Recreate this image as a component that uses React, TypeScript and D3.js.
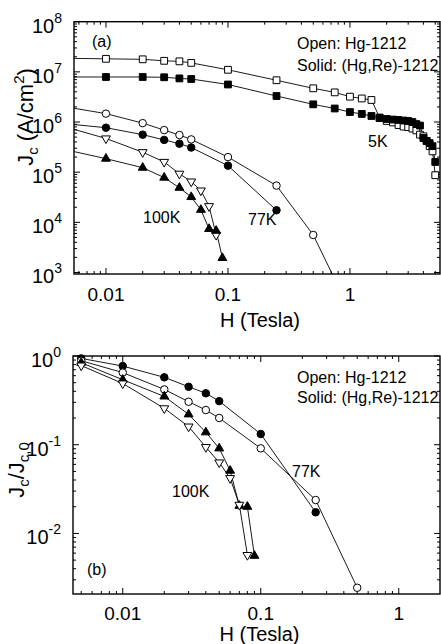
import React from 'react';
import * as d3 from 'd3';

// ---------- Data (panel a: Jc in A/cm^2 vs H in Tesla) ----------
const H_5K = [0.005, 0.01, 0.02, 0.03, 0.04, 0.05, 0.1, 0.25, 0.5, 0.75, 1.0, 1.25, 1.5, 1.75, 2.0, 2.25, 2.5, 2.75, 3.0, 3.25, 3.5, 3.75, 4.0, 4.25, 4.5, 4.75, 5.0];
const Jc_5K_open = [1.86e7, 1.82e7, 1.78e7, 1.66e7, 1.62e7, 1.51e7, 1.10e7, 6.8e6, 4.7e6, 3.9e6, 3.2e6, 2.95e6, 2.75e6, 1.23e6, 1.05e6, 9.8e5, 8.7e5, 8.1e5, 7.9e5, 7.4e5, 6.8e5, 5.6e5, 5.2e5, 4.2e5, 3.3e5, 2.6e5, 8.7e4];
const Jc_5K_solid = [7.9e6, 7.9e6, 7.9e6, 7.8e6, 7.4e6, 7.2e6, 5.6e6, 3.3e6, 2.25e6, 1.86e6, 1.58e6, 1.45e6, 1.32e6, 1.2e6, 1.15e6, 1.12e6, 1.1e6, 1.07e6, 1.05e6, 1.0e6, 9.1e5, 8.5e5, 4.8e5, 4.2e5, 3.8e5, 3.3e5, 1.6e5];

const H_77K_open = [0.005, 0.01, 0.02, 0.03, 0.04, 0.05, 0.1, 0.25, 0.5, 1.0];
const Jc_77K_open = [1.95e6, 1.47e6, 9.5e5, 6.9e5, 5.5e5, 4.5e5, 2.0e5, 5.4e4, 5.6e3, 1.75e2];
const H_77K_solid = [0.005, 0.01, 0.02, 0.03, 0.04, 0.05, 0.1, 0.25];
const Jc_77K_solid = [9.1e5, 7.7e5, 5.6e5, 4.4e5, 3.7e5, 3.1e5, 1.35e5, 1.74e4];

const H_100K_open = [0.005, 0.01, 0.02, 0.03, 0.04, 0.05, 0.06, 0.07, 0.08];
const Jc_100K_open = [7.6e5, 4.7e5, 2.5e5, 1.6e5, 9.3e4, 6.5e4, 4.3e4, 2.1e4, 5.6e3];
const H_100K_solid = [0.005, 0.01, 0.02, 0.03, 0.04, 0.05, 0.06, 0.07, 0.08, 0.09];
const Jc_100K_solid = [2.7e5, 1.86e5, 1.23e5, 7.8e4, 4.9e4, 3.2e4, 1.78e4, 7.4e3, 6.8e3, 1.95e3];

// ---------- Data (panel b: Jc/Jc,0 vs H) ----------
const R_77K_solid = [0.94, 0.77, 0.575, 0.45, 0.38, 0.31, 0.132, 0.0173];
const R_77K_open = [0.885, 0.65, 0.42, 0.305, 0.246, 0.20, 0.091, 0.0238, 0.00244];
const H_77K_open_b = [0.005, 0.01, 0.02, 0.03, 0.04, 0.05, 0.1, 0.25, 0.5];
const R_100K_solid = [0.84, 0.54, 0.35, 0.22, 0.138, 0.091, 0.051, 0.0205, 0.020, 0.0056];
const R_100K_open = [0.78, 0.49, 0.257, 0.16, 0.094, 0.063, 0.042, 0.021, 0.0057];

const X_TICK_LABELS = ['0.01', '0.1', '1'];
const Y_EXP_A = [3, 4, 5, 6, 7, 8];
const Y_EXP_B = [-2, -1, 0];

const FONT = "'Liberation Sans', Arial, Helvetica, sans-serif";

type Shape = 'square' | 'circle' | 'up' | 'down';
type Series = { h: number[]; v: number[]; shape: Shape; filled: boolean };

function markerPath(shape: Shape): string {
  if (shape === 'square') return d3.symbol(d3.symbolSquare, 46)()!;
  if (shape === 'circle') return d3.symbol(d3.symbolCircle, 44)()!;
  return d3.symbol(d3.symbolTriangle, 34)()!;
}

type PanelProps = {
  id: string;
  xDomain: [number, number];
  xRange: [number, number];
  yDomain: [number, number];
  yRange: [number, number];
  series: Series[];
  yExps: number[];
  xLabelY: number;
  xTitleY: number;
};

function Panel(p: PanelProps) {
  const x = d3.scaleLog().domain(p.xDomain).range(p.xRange);
  const y = d3.scaleLog().domain(p.yDomain).range(p.yRange);
  const [x0, x1] = p.xRange;
  const [y0, y1] = p.yRange; // y0 bottom, y1 top
  const isMajor = (t: number) => Math.abs(Math.log10(t) - Math.round(Math.log10(t))) < 1e-6;
  const xt = x.ticks().filter((t) => t >= p.xDomain[0] && t <= p.xDomain[1]);
  const yt = y.ticks().filter((t) => t >= p.yDomain[0] && t <= p.yDomain[1]);
  const line = d3.line<[number, number]>().x((d) => x(d[0])).y((d) => y(d[1]));
  const inside = (hx: number, vy: number) => hx >= p.xDomain[0] && hx <= p.xDomain[1] && vy >= p.yDomain[0] && vy <= p.yDomain[1];
  const maj = 6, min = 3;
  return (
    <g>
      <defs>
        <clipPath id={p.id}>
          <rect x={x0} y={y1} width={x1 - x0} height={y0 - y1} />
        </clipPath>
      </defs>
      {xt.map((t, i) => {
        const L = isMajor(t) ? maj : min;
        const px = x(t);
        return (
          <g key={'xt' + i} stroke="#000" strokeWidth={1}>
            <line x1={px} x2={px} y1={y0} y2={y0 - L} />
            <line x1={px} x2={px} y1={y1} y2={y1 + L} />
          </g>
        );
      })}
      {yt.map((t, i) => {
        const L = isMajor(t) ? maj : min;
        const py = y(t);
        return (
          <g key={'yt' + i} stroke="#000" strokeWidth={1}>
            <line x1={x0} x2={x0 + L} y1={py} y2={py} />
            <line x1={x1} x2={x1 - L} y1={py} y2={py} />
          </g>
        );
      })}
      <g clipPath={`url(#${p.id})`}>
        {p.series.map((s, i) => (
          <path key={'l' + i} d={line(s.h.map((h, j) => [h, s.v[j]] as [number, number]))!} fill="none" stroke="#000" strokeWidth={0.9} />
        ))}
      </g>
      {p.series.map((s, i) => (
        <g key={'m' + i}>
          {s.h.map((h, j) =>
            inside(h, s.v[j]) ? (
              <path
                key={j}
                d={markerPath(s.shape)}
                transform={`translate(${x(h)},${y(s.v[j])})${s.shape === 'down' ? ' rotate(180)' : ''}`}
                fill={s.filled ? '#000' : '#fff'}
                stroke="#000"
                strokeWidth={1}
              />
            ) : null
          )}
        </g>
      ))}
      <rect x={x0} y={y1} width={x1 - x0} height={y0 - y1} fill="none" stroke="#000" strokeWidth={1.4} />
      {X_TICK_LABELS.map((lab) => (
        <text key={lab} x={x(+lab)} y={p.xLabelY} textAnchor="middle" fontSize={19} fontFamily={FONT}>
          {lab}
        </text>
      ))}
      {p.yExps.map((e) => (
        <text key={'ye' + e} x={x0 - 12} y={y(Math.pow(10, e)) + 11} textAnchor="end" fontSize={20} fontFamily={FONT}>
          10
          <tspan fontSize={14} dy={-10}>
            {e < 0 ? '-' + Math.abs(e) : String(e)}
          </tspan>
        </text>
      ))}
      <text x={(x0 + x1) / 2 + 3} y={p.xTitleY} textAnchor="middle" fontSize={20} fontFamily={FONT}>
        H (Tesla)
      </text>
    </g>
  );
}

export default function App() {
  const seriesA: Series[] = [
    { h: H_5K, v: Jc_5K_open, shape: 'square', filled: false },
    { h: H_5K, v: Jc_5K_solid, shape: 'square', filled: true },
    { h: H_77K_open, v: Jc_77K_open, shape: 'circle', filled: false },
    { h: H_77K_solid, v: Jc_77K_solid, shape: 'circle', filled: true },
    { h: H_100K_open, v: Jc_100K_open, shape: 'down', filled: false },
    { h: H_100K_solid, v: Jc_100K_solid, shape: 'up', filled: true },
  ];
  const seriesB: Series[] = [
    { h: H_77K_solid, v: R_77K_solid, shape: 'circle', filled: true },
    { h: H_77K_open_b, v: R_77K_open, shape: 'circle', filled: false },
    { h: H_100K_solid, v: R_100K_solid, shape: 'up', filled: true },
    { h: H_100K_open, v: R_100K_open, shape: 'down', filled: false },
  ];
  const t = { fontFamily: FONT, fill: '#000' };
  return (
    <svg width={441} height={644} style={{ position: 'absolute', left: 0, top: 0, background: '#fff' }}>
      <rect x={0} y={0} width={441} height={644} fill="#fff" />
      <Panel
        id="clipA"
        xDomain={[0.00547, 5.47]}
        xRange={[74, 440]}
        yDomain={[Math.pow(10, 2.97), 1e8]}
        yRange={[274, 21.7]}
        series={seriesA}
        yExps={Y_EXP_A}
        xLabelY={301}
        xTitleY={327}
      />
      <Panel
        id="clipB"
        xDomain={[0.00436, 1.99]}
        xRange={[73, 440]}
        yDomain={[0.002075, 1]}
        yRange={[594, 356]}
        series={seriesB}
        yExps={Y_EXP_B}
        xLabelY={620}
        xTitleY={641}
      />
      <text x={92} y={47} fontSize={16} {...t}>(a)</text>
      <text x={297} y={48.5} fontSize={16} {...t}>Open: Hg-1212</text>
      <text x={297} y={70.5} fontSize={16} {...t}>Solid: (Hg,Re)-1212</text>
      <text x={368} y={146.5} fontSize={16} {...t}>5K</text>
      <text x={248} y={225} fontSize={16} {...t}>77K</text>
      <text x={143} y={222.5} fontSize={16} {...t}>100K</text>
      <text transform="translate(33,117) rotate(-90)" textAnchor="middle" fontSize={22} {...t}>
        J<tspan fontSize={15} dy={5}>c</tspan>
        <tspan dy={-5}> (A/cm</tspan>
        <tspan fontSize={15} dy={-9}>2</tspan>
        <tspan dy={9}>)</tspan>
      </text>
      <text x={297} y={383} fontSize={16} {...t}>Open: Hg-1212</text>
      <text x={297} y={403} fontSize={16} {...t}>Solid: (Hg,Re)-1212</text>
      <text x={292} y={477} fontSize={16} {...t}>77K</text>
      <text x={172} y={497} fontSize={16} {...t}>100K</text>
      <text x={87} y={575} fontSize={16} {...t}>(b)</text>
      <text transform="translate(24,470) rotate(-90)" textAnchor="middle" fontSize={22} {...t}>
        J<tspan fontSize={15} dy={5}>c</tspan>
        <tspan dy={-5}>/J</tspan>
        <tspan fontSize={15} dy={5}>c,0</tspan>
      </text>
    </svg>
  );
}
